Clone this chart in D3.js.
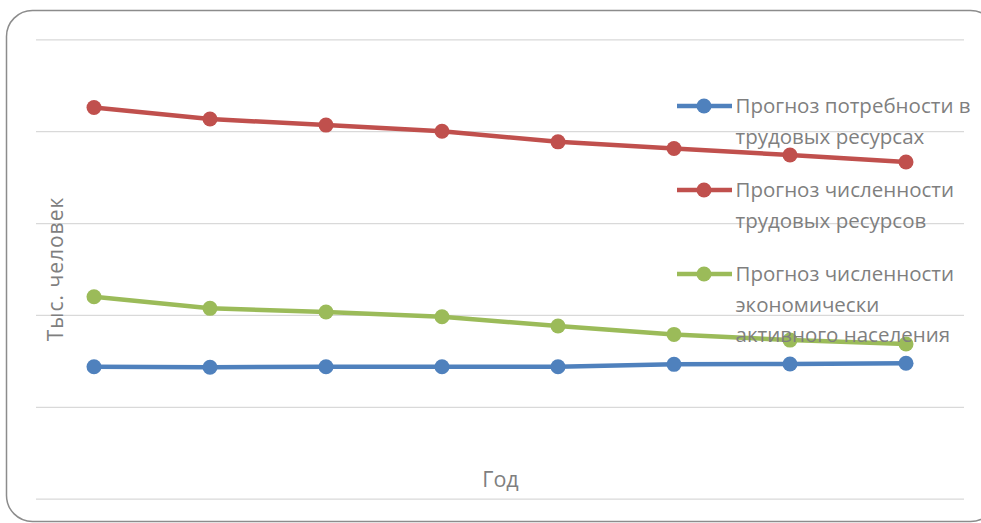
<!DOCTYPE html>
<html>
<head>
<meta charset="utf-8">
<script src="https://cdn.jsdelivr.net/npm/d3@7"></script>
<style>
  html, body { margin: 0; padding: 0; background: #fff; }
  svg { display: block; }
  text { font-family: "Open Sans", "Noto Sans", sans-serif; }
</style>
</head>
<body>
<svg id="chart" width="981" height="523"></svg>
<script>
// ---- data ----
const categories = ["1", "2", "3", "4", "5", "6", "7", "8"];
const demandValues = [718, 715, 718, 718, 718, 731, 733, 737];
const laborValues = [2129, 2066, 2033, 2000, 1942, 1906, 1870, 1832];
const activeValues = [1099, 1036, 1016, 990, 940, 894, 863, 842];
const yTicks = [0, 500, 1000, 1500, 2000, 2500];
const seriesNames = [
  ["Прогноз потребности в", "трудовых ресурсах"],
  ["Прогноз численности", "трудовых ресурсов"],
  ["Прогноз численности", "экономически", "активного населения"]
];
const seriesColors = ["#4f81bd", "#c0504d", "#9bbb59"];
const xTitle = "Год";
const yTitle = "Тыс. человек";

const series = [demandValues, laborValues, activeValues];

// ---- layout ----
const svg = d3.select("#chart");
const plot = { left: 36, right: 964, top: 39.3, bottom: 498.7 };

svg.append("rect")
  .attr("x", 6.5).attr("y", 10.5)
  .attr("width", 990).attr("height", 511)
  .attr("rx", 26).attr("ry", 26)
  .attr("fill", "#fff")
  .attr("stroke", "#8c8c8c")
  .attr("stroke-width", 1.5);

const x = d3.scaleBand().domain(categories).range([plot.left, plot.right]);
const y = d3.scaleLinear().domain([0, 2500]).range([plot.bottom, plot.top]);

// gridlines
const grid = svg.append("g")
  .attr("transform", `translate(${plot.left},0)`)
  .call(d3.axisLeft(y).tickValues(yTicks).tickSize(-(plot.right - plot.left)).tickFormat(""));
grid.select(".domain").remove();
grid.selectAll(".tick line").attr("stroke", "#d9d9d9").attr("stroke-width", 1.3);

// lines
const line = d3.line()
  .x((d, i) => x(categories[i]) + x.bandwidth() / 2)
  .y(d => y(d));

series.forEach((vals, si) => {
  const g = svg.append("g");
  g.append("path")
    .datum(vals)
    .attr("d", line)
    .attr("fill", "none")
    .attr("stroke", seriesColors[si])
    .attr("stroke-width", 4.5)
    .attr("stroke-linejoin", "round")
    .attr("stroke-linecap", "round");
  g.selectAll("circle").data(vals).enter().append("circle")
    .attr("cx", (d, i) => x(categories[i]) + x.bandwidth() / 2)
    .attr("cy", d => y(d))
    .attr("r", 7.5)
    .attr("fill", seriesColors[si]);
});

// axis titles
svg.append("text")
  .attr("x", 500.5).attr("y", 487)
  .attr("text-anchor", "middle")
  .attr("font-size", 21.5)
  .attr("fill", "#7f7f7f")
  .text(xTitle);

svg.append("text")
  .attr("transform", "translate(63,269) rotate(-90)")
  .attr("text-anchor", "middle")
  .attr("font-size", 21)
  .attr("letter-spacing", 1)
  .attr("fill", "#7f7f7f")
  .text(yTitle);

// legend
const legendRowY = [106, 190, 274];
const lineH = 30.5;
seriesNames.forEach((lines, si) => {
  const g = svg.append("g").attr("transform", `translate(0,${legendRowY[si]})`);
  g.append("line")
    .attr("x1", 677).attr("x2", 732).attr("y1", 0).attr("y2", 0)
    .attr("stroke", seriesColors[si]).attr("stroke-width", 4.5);
  g.append("circle").attr("cx", 704).attr("cy", 0).attr("r", 7.5).attr("fill", seriesColors[si]);
  lines.forEach((t, li) => {
    g.append("text")
      .attr("x", 735.5).attr("y", li * lineH)
      .attr("dy", "0.35em")
      .attr("font-size", 20.5)
      .attr("fill", "#7f7f7f")
      .text(t);
  });
});
</script>
</body>
</html>
